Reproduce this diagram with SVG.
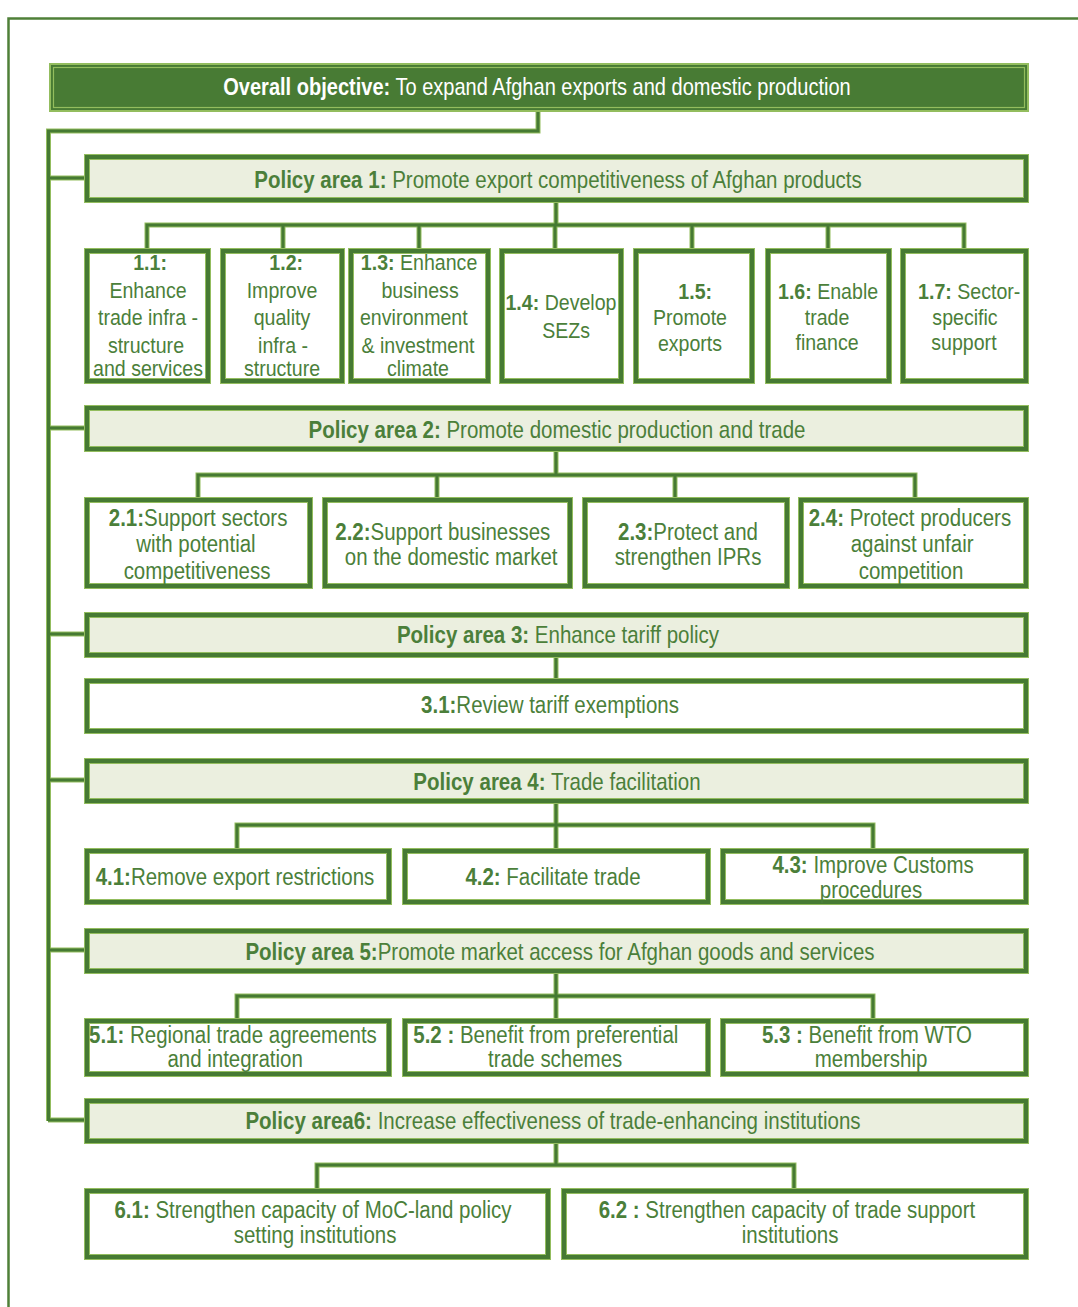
<svg xmlns="http://www.w3.org/2000/svg" width="1078" height="1307" viewBox="0 0 1078 1307">
<style>
text{font-family:"Liberation Sans",Arial,sans-serif;font-size:23px;fill:#4b7f3a;text-anchor:middle}
.p{font-size:24px}
.r1{font-size:22px}
.b{font-weight:bold}
.w{fill:#ffffff}
.bo{fill:none;stroke:#93bd5e;stroke-width:6}
.bi{fill:none;stroke:#467a33;stroke-width:4}
.pa{fill:#ebefdf}
.wf{fill:#ffffff}
.df{fill:#487b34}
.co{fill:none;stroke:#93bd5e;stroke-width:5}
.ci{fill:none;stroke:#467a33;stroke-width:3}
</style>
<rect width="1078" height="1307" fill="#ffffff"/>
<path d="M8.5 1307 V18.5 H1078" fill="none" stroke="#4f8038" stroke-width="2.5"/>
<g id="connectors">
<g class="co">
<path d="M538 112 V131 H48.5 V1121"/>
<path d="M48 178 H84 M48 428 H84 M48 634 H84 M48 780 H84 M48 950 H84 M48 1120 H84"/>
<path d="M556 203 V225 M147 249 V225 H964 V249 M283 225 V249 M419 225 V249 M555 225 V249 M692 225 V249 M828 225 V249"/>
<path d="M556 452 V475 M198 498 V475 H915 V498 M437 475 V498 M675 475 V498"/>
<path d="M556 658 V679"/>
<path d="M556 804 V825 M237 849 V825 H873 V849 M556 825 V849"/>
<path d="M556 974 V996 M237 1019 V996 H873 V1019 M556 996 V1019"/>
<path d="M556 1144 V1165 M317 1189 V1165 H794 V1189"/>
</g>
<g class="ci">
<path d="M538 112 V131 H48.5 V1121"/>
<path d="M48 178 H84 M48 428 H84 M48 634 H84 M48 780 H84 M48 950 H84 M48 1120 H84"/>
<path d="M556 203 V225 M147 249 V225 H964 V249 M283 225 V249 M419 225 V249 M555 225 V249 M692 225 V249 M828 225 V249"/>
<path d="M556 452 V475 M198 498 V475 H915 V498 M437 475 V498 M675 475 V498"/>
<path d="M556 658 V679"/>
<path d="M556 804 V825 M237 849 V825 H873 V849 M556 825 V849"/>
<path d="M556 974 V996 M237 1019 V996 H873 V1019 M556 996 V1019"/>
<path d="M556 1144 V1165 M317 1189 V1165 H794 V1189"/>
</g>
</g>
<g id="overall">
<rect class="df" x="49" y="63" width="980" height="49"/>
<rect x="50" y="64" width="978" height="47" fill="none" stroke="#93bd5e" stroke-width="2"/>
<rect x="53.5" y="67.5" width="971" height="40" fill="none" stroke="#93bd5e" stroke-width="1.2"/>
<text class="p w" transform="translate(537 95) scale(0.835 1)"><tspan class="b w">Overall objective:</tspan> To expand Afghan exports and domestic production</text>
</g>
<g id="pa1">
<rect class="pa" x="84" y="154" width="945" height="49"/>
<rect class="bo" x="87" y="157" width="939" height="43"/><rect class="bi" x="87" y="157" width="939" height="43"/>
<text class="p" transform="translate(558 188) scale(0.855 1)"><tspan class="b">Policy area 1:</tspan>  Promote export competitiveness of Afghan products</text>
</g>
<g id="n1-1">
<rect class="wf" x="84" y="248" width="127" height="136"/>
<rect class="bo" x="87" y="251" width="121" height="130"/><rect class="bi" x="87" y="251" width="121" height="130"/>
<text class="r1" transform="translate(148 0) scale(0.89 1)"><tspan x="2.3" y="270" class="b">1.1:</tspan><tspan x="0" y="298">Enhance</tspan><tspan x="0" y="325">trade infra -</tspan><tspan x="-2.3" y="353">structure</tspan><tspan x="0" y="376">and services</tspan></text>
</g>
<g id="n1-2">
<rect class="wf" x="220" y="248" width="125" height="136"/>
<rect class="bo" x="223" y="251" width="119" height="130"/><rect class="bi" x="223" y="251" width="119" height="130"/>
<text class="r1" transform="translate(282 0) scale(0.89 1)"><tspan x="4.7" y="270" class="b">1.2:</tspan><tspan x="0" y="298">Improve</tspan><tspan x="0" y="325">quality</tspan><tspan x="1.2" y="353">infra -</tspan><tspan x="0" y="376">structure</tspan></text>
</g>
<g id="n1-3">
<rect class="wf" x="348" y="248" width="143" height="136"/>
<rect class="bo" x="351" y="251" width="137" height="130"/><rect class="bi" x="351" y="251" width="137" height="130"/>
<text class="r1" transform="translate(418 0) scale(0.89 1)"><tspan x="1.2" y="270"><tspan class="b">1.3:</tspan> Enhance</tspan><tspan x="2.3" y="298">business</tspan><tspan x="-4.7" y="325">environment</tspan><tspan x="0" y="353">&amp; investment</tspan><tspan x="0" y="376">climate</tspan></text>
</g>
<g id="n1-4">
<rect class="wf" x="499" y="248" width="125" height="136"/>
<rect class="bo" x="502" y="251" width="119" height="130"/><rect class="bi" x="502" y="251" width="119" height="130"/>
<text class="r1" transform="translate(563 0) scale(0.89 1)"><tspan x="-2.3" y="310"><tspan class="b">1.4:</tspan> Develop</tspan><tspan x="3.5" y="338">SEZs</tspan></text>
</g>
<g id="n1-5">
<rect class="wf" x="633" y="248" width="122" height="136"/>
<rect class="bo" x="636" y="251" width="116" height="130"/><rect class="bi" x="636" y="251" width="116" height="130"/>
<text class="r1" transform="translate(690 0) scale(0.89 1)"><tspan x="5.8" y="299" class="b">1.5:</tspan><tspan x="0" y="325">Promote</tspan><tspan x="0" y="351">exports</tspan></text>
</g>
<g id="n1-6">
<rect class="wf" x="765" y="248" width="127" height="136"/>
<rect class="bo" x="768" y="251" width="121" height="130"/><rect class="bi" x="768" y="251" width="121" height="130"/>
<text class="r1" transform="translate(827 0) scale(0.89 1)"><tspan x="1.2" y="299"><tspan class="b">1.6:</tspan> Enable</tspan><tspan x="0" y="325">trade</tspan><tspan x="0" y="350">finance</tspan></text>
</g>
<g id="n1-7">
<rect class="wf" x="900" y="248" width="129" height="136"/>
<rect class="bo" x="903" y="251" width="123" height="130"/><rect class="bi" x="903" y="251" width="123" height="130"/>
<text class="r1" transform="translate(965 0) scale(0.89 1)"><tspan x="4.7" y="299"><tspan class="b">1.7:</tspan> Sector-</tspan><tspan x="0" y="325">specific</tspan><tspan x="-1.2" y="350">support</tspan></text>
</g>
<g id="pa2">
<rect class="pa" x="84" y="405" width="945" height="47"/>
<rect class="bo" x="87" y="408" width="939" height="41"/><rect class="bi" x="87" y="408" width="939" height="41"/>
<text class="p" transform="translate(557 438) scale(0.855 1)"><tspan class="b">Policy area 2:</tspan>  Promote domestic production and trade</text>
</g>
<g id="n2-1">
<rect class="wf" x="84" y="497" width="229" height="92"/>
<rect class="bo" x="87" y="500" width="223" height="86"/><rect class="bi" x="87" y="500" width="223" height="86"/>
<text transform="translate(197 0) scale(0.89 1)"><tspan x="1.2" y="526"><tspan class="b">2.1:</tspan>Support sectors</tspan><tspan x="-1.2" y="552">with potential</tspan><tspan x="0" y="579">competitiveness</tspan></text>
</g>
<g id="n2-2">
<rect class="wf" x="322" y="497" width="251" height="92"/>
<rect class="bo" x="325" y="500" width="245" height="86"/><rect class="bi" x="325" y="500" width="245" height="86"/>
<text transform="translate(447 0) scale(0.89 1)"><tspan x="-4.7" y="540"><tspan class="b">2.2:</tspan>Support businesses</tspan><tspan x="4.7" y="565">on the domestic market</tspan></text>
</g>
<g id="n2-3">
<rect class="wf" x="582" y="497" width="208" height="92"/>
<rect class="bo" x="585" y="500" width="202" height="86"/><rect class="bi" x="585" y="500" width="202" height="86"/>
<text transform="translate(688 0) scale(0.89 1)"><tspan x="0" y="540"><tspan class="b">2.3:</tspan>Protect and</tspan><tspan x="0" y="565">strengthen IPRs</tspan></text>
</g>
<g id="n2-4">
<rect class="wf" x="798" y="497" width="231" height="92"/>
<rect class="bo" x="801" y="500" width="225" height="86"/><rect class="bi" x="801" y="500" width="225" height="86"/>
<text transform="translate(911 0) scale(0.89 1)"><tspan x="-1.2" y="526"><tspan class="b">2.4:</tspan> Protect producers</tspan><tspan x="1.2" y="552">against unfair</tspan><tspan x="0" y="579">competition</tspan></text>
</g>
<g id="pa3">
<rect class="pa" x="84" y="612" width="945" height="46"/>
<rect class="bo" x="87" y="615" width="939" height="40"/><rect class="bi" x="87" y="615" width="939" height="40"/>
<text class="p" transform="translate(558 643) scale(0.855 1)"><tspan class="b">Policy area 3:</tspan>  Enhance tariff policy</text>
</g>
<g id="n3-1">
<rect class="wf" x="84" y="678" width="945" height="56"/>
<rect class="bo" x="87" y="681" width="939" height="50"/><rect class="bi" x="87" y="681" width="939" height="50"/>
<text transform="translate(550 713) scale(0.89 1)"><tspan class="b">3.1:</tspan>Review tariff exemptions</text>
</g>
<g id="pa4">
<rect class="pa" x="84" y="758" width="945" height="46"/>
<rect class="bo" x="87" y="761" width="939" height="40"/><rect class="bi" x="87" y="761" width="939" height="40"/>
<text class="p" transform="translate(557 790) scale(0.855 1)"><tspan class="b">Policy area 4:</tspan> Trade facilitation</text>
</g>
<g id="n4-1">
<rect class="wf" x="84" y="848" width="308" height="57"/>
<rect class="bo" x="87" y="851" width="302" height="51"/><rect class="bi" x="87" y="851" width="302" height="51"/>
<text transform="translate(235 885) scale(0.89 1)"><tspan class="b">4.1:</tspan>Remove export restrictions</text>
</g>
<g id="n4-2">
<rect class="wf" x="402" y="848" width="309" height="57"/>
<rect class="bo" x="405" y="851" width="303" height="51"/><rect class="bi" x="405" y="851" width="303" height="51"/>
<text transform="translate(553 885) scale(0.89 1)"><tspan class="b">4.2:</tspan> Facilitate trade</text>
</g>
<g id="n4-3">
<rect class="wf" x="720" y="848" width="309" height="57"/>
<rect class="bo" x="723" y="851" width="303" height="51"/><rect class="bi" x="723" y="851" width="303" height="51"/>
<text transform="translate(872 0) scale(0.89 1)"><tspan x="1.2" y="873"><tspan class="b">4.3:</tspan> Improve Customs</tspan><tspan x="-1.2" y="898">procedures</tspan></text>
</g>
<g id="pa5">
<rect class="pa" x="84" y="928" width="945" height="46"/>
<rect class="bo" x="87" y="931" width="939" height="40"/><rect class="bi" x="87" y="931" width="939" height="40"/>
<text class="p" transform="translate(560 960) scale(0.855 1)"><tspan class="b">Policy area 5:</tspan>Promote market access for Afghan goods and services</text>
</g>
<g id="n5-1">
<rect class="wf" x="84" y="1018" width="308" height="59"/>
<rect class="bo" x="87" y="1021" width="302" height="53"/><rect class="bi" x="87" y="1021" width="302" height="53"/>
<text transform="translate(234 0) scale(0.89 1)"><tspan x="-1.2" y="1043"><tspan class="b">5.1:</tspan> Regional trade agreements</tspan><tspan x="1.2" y="1067">and integration</tspan></text>
</g>
<g id="n5-2">
<rect class="wf" x="402" y="1018" width="309" height="59"/>
<rect class="bo" x="405" y="1021" width="303" height="53"/><rect class="bi" x="405" y="1021" width="303" height="53"/>
<text transform="translate(550 0) scale(0.89 1)"><tspan x="-4.7" y="1043"><tspan class="b">5.2 :</tspan> Benefit from preferential</tspan><tspan x="5.8" y="1067">trade schemes</tspan></text>
</g>
<g id="n5-3">
<rect class="wf" x="720" y="1018" width="309" height="59"/>
<rect class="bo" x="723" y="1021" width="303" height="53"/><rect class="bi" x="723" y="1021" width="303" height="53"/>
<text transform="translate(869 0) scale(0.89 1)"><tspan x="-2.3" y="1043"><tspan class="b">5.3 :</tspan> Benefit from WTO</tspan><tspan x="2.3" y="1067">membership</tspan></text>
</g>
<g id="pa6">
<rect class="pa" x="84" y="1098" width="945" height="46"/>
<rect class="bo" x="87" y="1101" width="939" height="40"/><rect class="bi" x="87" y="1101" width="939" height="40"/>
<text class="p" transform="translate(553 1129) scale(0.855 1)"><tspan class="b">Policy area6:</tspan> Increase effectiveness of trade-enhancing institutions</text>
</g>
<g id="n6-1">
<rect class="wf" x="84" y="1188" width="467" height="72"/>
<rect class="bo" x="87" y="1191" width="461" height="66"/><rect class="bi" x="87" y="1191" width="461" height="66"/>
<text transform="translate(314 0) scale(0.89 1)"><tspan x="-1.2" y="1218"><tspan class="b">6.1:</tspan> Strengthen capacity of MoC-land policy</tspan><tspan x="1.2" y="1243">setting institutions</tspan></text>
</g>
<g id="n6-2">
<rect class="wf" x="561" y="1188" width="468" height="72"/>
<rect class="bo" x="564" y="1191" width="462" height="66"/><rect class="bi" x="564" y="1191" width="462" height="66"/>
<text transform="translate(789 0) scale(0.89 1)"><tspan x="-2.3" y="1218"><tspan class="b">6.2 :</tspan> Strengthen capacity of trade support</tspan><tspan x="1.2" y="1243">institutions</tspan></text>
</g>
</svg>
